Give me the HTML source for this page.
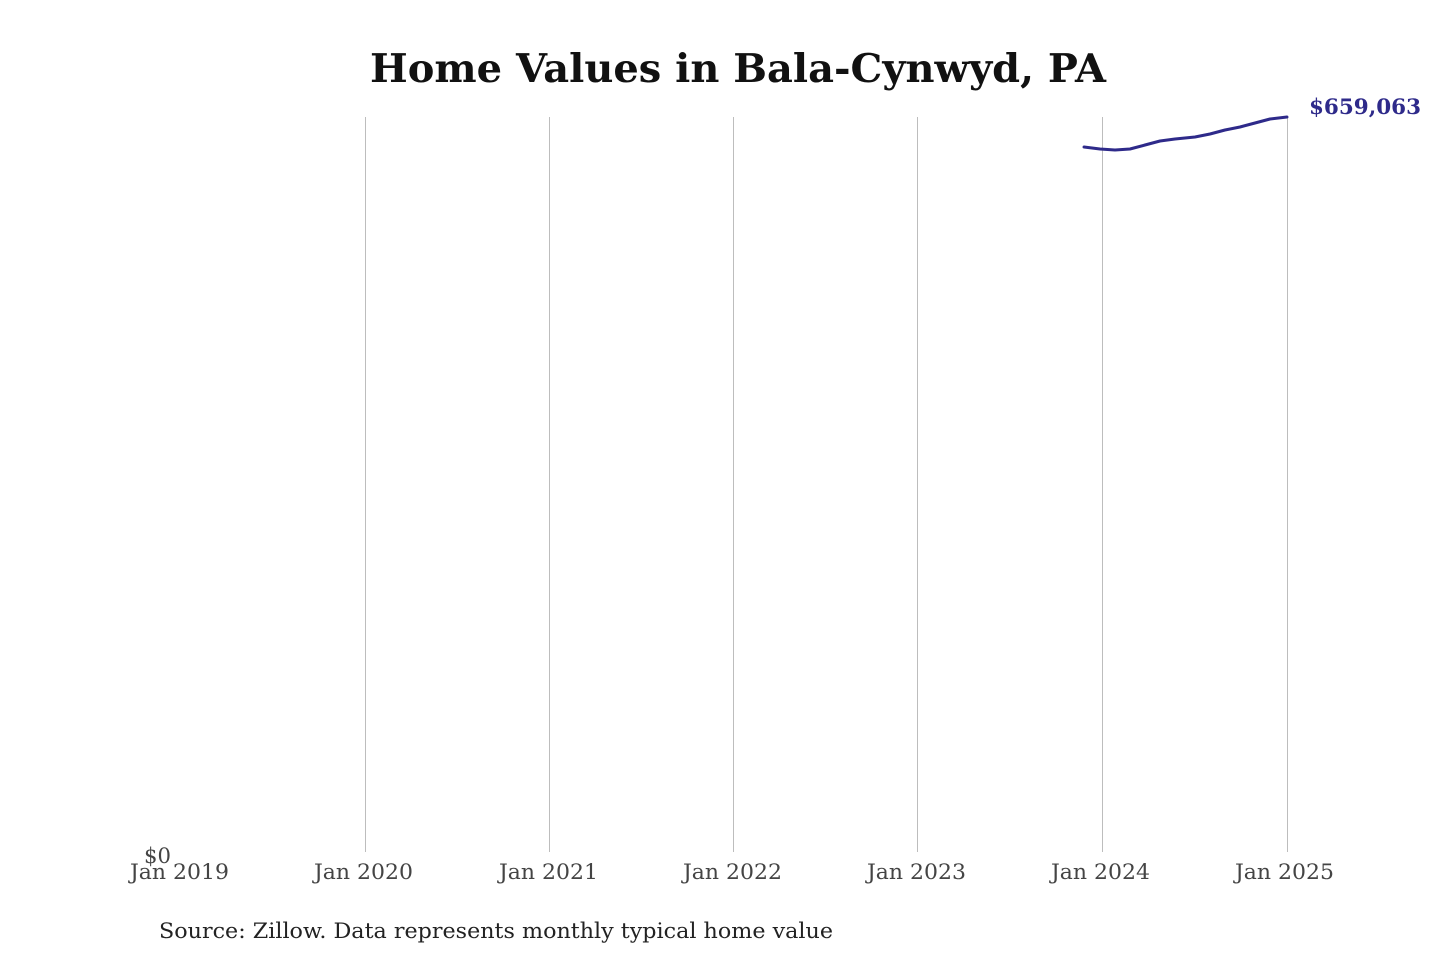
<!DOCTYPE html>
<html><head><meta charset="utf-8"><style>
html,body{margin:0;padding:0;background:#fff;}
svg{display:block;}
</style></head><body>
<svg width="1440" height="960" viewBox="0 0 1440 960" xmlns="http://www.w3.org/2000/svg">
<rect width="1440" height="960" fill="#fff"/>
<text x="370" y="82" font-family="DejaVu Serif, Liberation Serif, serif" font-weight="bold" font-size="39" fill="#111" textLength="736" lengthAdjust="spacingAndGlyphs">Home Values in Bala-Cynwyd, PA</text>
<g stroke="#bdbdbd" stroke-width="1">
<line x1="365.5" y1="117" x2="365.5" y2="852"/>
<line x1="549.5" y1="117" x2="549.5" y2="852"/>
<line x1="733.5" y1="117" x2="733.5" y2="852"/>
<line x1="917.5" y1="117" x2="917.5" y2="852"/>
<line x1="1102.5" y1="117" x2="1102.5" y2="852"/>
<line x1="1287.5" y1="117" x2="1287.5" y2="852"/>
</g>
<polyline fill="none" stroke="#2e2a8a" stroke-width="3" stroke-linejoin="round" stroke-linecap="round"
points="1084,147 1100,149 1115,150 1130,149 1145,145 1160,141 1175,139 1195,137 1210,134 1225,130 1240,127 1255,123 1270,119 1287,117"/>
<text x="1309" y="114" font-family="DejaVu Serif, Liberation Serif, serif" font-weight="bold" font-size="21" fill="#2e2a8a" textLength="112" lengthAdjust="spacingAndGlyphs">$659,063</text>
<g font-family="DejaVu Serif, Liberation Serif, serif" font-size="21" fill="#444">
<text x="144" y="863" textLength="27" lengthAdjust="spacingAndGlyphs">$0</text>
<text x="130" y="879" textLength="99" lengthAdjust="spacingAndGlyphs">Jan 2019</text>
<text x="314" y="879" textLength="99" lengthAdjust="spacingAndGlyphs">Jan 2020</text>
<text x="499" y="879" textLength="99" lengthAdjust="spacingAndGlyphs">Jan 2021</text>
<text x="683" y="879" textLength="99" lengthAdjust="spacingAndGlyphs">Jan 2022</text>
<text x="867" y="879" textLength="99" lengthAdjust="spacingAndGlyphs">Jan 2023</text>
<text x="1051" y="879" textLength="99" lengthAdjust="spacingAndGlyphs">Jan 2024</text>
<text x="1235" y="879" textLength="99" lengthAdjust="spacingAndGlyphs">Jan 2025</text>
</g>
<text x="159" y="938" font-family="DejaVu Serif, Liberation Serif, serif" font-size="21" fill="#222" textLength="674" lengthAdjust="spacingAndGlyphs">Source: Zillow. Data represents monthly typical home value</text>
</svg>
</body></html>
